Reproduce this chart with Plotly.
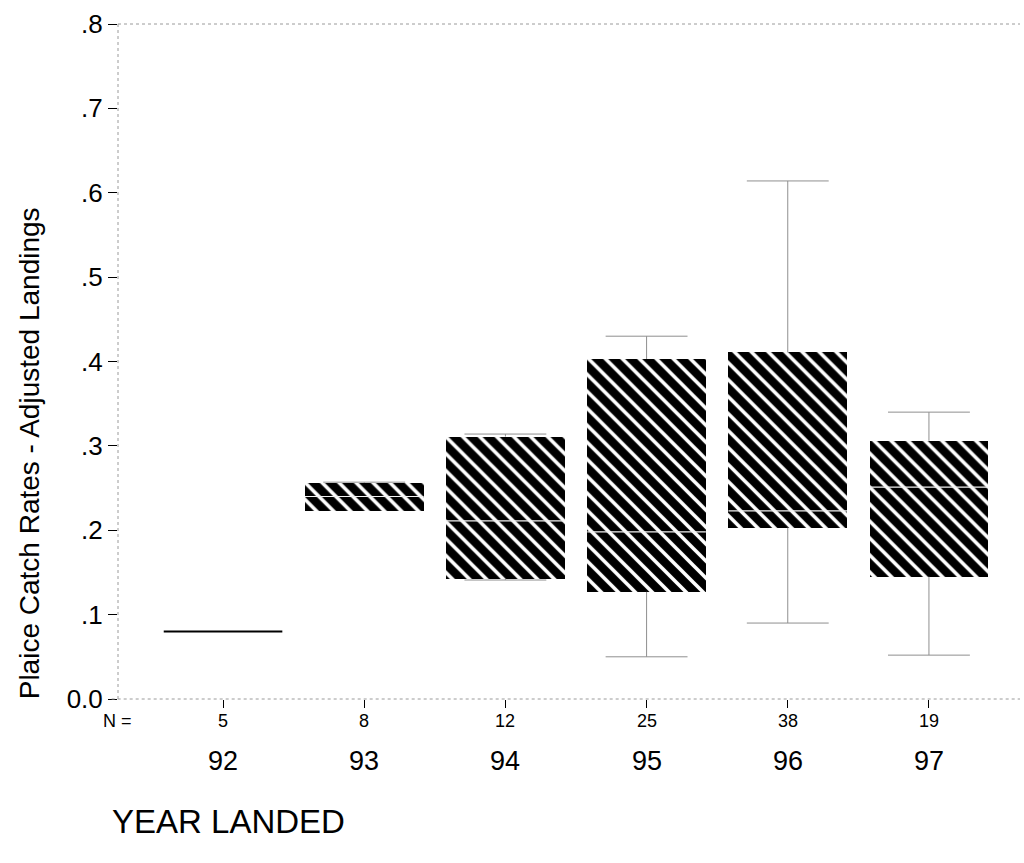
import plotly.graph_objects as go

# ---- data ----
years = ["92", "93", "94", "95", "96", "97"]
n_counts = [5, 8, 12, 25, 38, 19]
q1 = [0.080, 0.223, 0.142, 0.127, 0.203, 0.145]
median = [0.080, 0.240, 0.211, 0.198, 0.223, 0.251]
q3 = [0.080, 0.256, 0.311, 0.403, 0.411, 0.306]
whisker_low = [0.080, 0.223, 0.141, 0.050, 0.090, 0.052]
whisker_high = [0.080, 0.257, 0.314, 0.430, 0.614, 0.340]
ytick_vals = [0.0, 0.1, 0.2, 0.3, 0.4, 0.5, 0.6, 0.7, 0.8]
ytick_text = ["0.0", ".1", ".2", ".3", ".4", ".5", ".6", ".7", ".8"]

FONT = "Liberation Sans, Arial, Helvetica, sans-serif"
BOX_W = 0.84
CAP_HALF = 0.29
xs = list(range(len(years)))

fig = go.Figure()

# whiskers (stems + caps)
wx, wy = [], []
for i in xs:
    if whisker_high[i] > q3[i]:
        wx += [i, i, None, i - CAP_HALF, i + CAP_HALF, None]
        wy += [q3[i], whisker_high[i], None, whisker_high[i], whisker_high[i], None]
    if whisker_low[i] < q1[i]:
        wx += [i, i, None, i - CAP_HALF, i + CAP_HALF, None]
        wy += [q1[i], whisker_low[i], None, whisker_low[i], whisker_low[i], None]
fig.add_trace(go.Scatter(x=wx, y=wy, mode="lines",
                         line=dict(color="#8f8f8f", width=1),
                         hoverinfo="skip", showlegend=False))

# hatched boxes
fig.add_trace(go.Bar(
    x=xs,
    y=[q3[i] - q1[i] for i in xs],
    base=q1,
    width=BOX_W,
    marker=dict(color="black", line=dict(width=0),
                pattern=dict(shape="\\", fgcolor="white", bgcolor="black",
                             size=12, solidity=0.3, fillmode="replace")),
    hoverinfo="skip", showlegend=False))

# median lines
for i in xs:
    col = "#f2f2f2" if q3[i] > q1[i] else "black"
    fig.add_trace(go.Scatter(x=[i - BOX_W / 2, i + BOX_W / 2], y=[median[i], median[i]],
                             mode="lines", line=dict(color=col, width=2 if col == "black" else 1.2),
                             hoverinfo="skip", showlegend=False))

# frame (dotted grey, scanned look)
frame = dict(color="#9a9a9a", width=1, dash="dot")
fig.add_shape(type="line", xref="paper", yref="paper", x0=0, x1=1, y0=1, y1=1, line=frame)
fig.add_shape(type="line", xref="paper", yref="paper", x0=0, x1=0, y0=0, y1=1, line=frame)
fig.add_shape(type="line", xref="paper", yref="paper", x0=-0.007, x1=1, y0=0, y1=0, line=frame)

annotations = []
for i in xs:
    annotations.append(dict(x=i, y=-0.0326, xref="x", yref="paper", text=str(n_counts[i]),
                            showarrow=False, font=dict(family=FONT, size=18, color="black"),
                            xanchor="center", yanchor="middle"))
    annotations.append(dict(x=i, y=-0.0919, xref="x", yref="paper", text=years[i],
                            showarrow=False, font=dict(family=FONT, size=27, color="black"),
                            xanchor="center", yanchor="middle"))
annotations.append(dict(x=-0.001, y=-0.0326, xref="paper", yref="paper", text="N =",
                        showarrow=False, font=dict(family=FONT, size=18, color="black"),
                        xanchor="center", yanchor="middle"))
annotations.append(dict(x=-0.009, y=-0.182, xref="paper", yref="paper", text="YEAR LANDED",
                        showarrow=False, font=dict(family=FONT, size=33, color="black"),
                        xanchor="left", yanchor="middle"))
annotations.append(dict(x=-0.0987, y=0.364, xref="paper", yref="paper",
                        text="Plaice Catch Rates - Adjusted Landings", textangle=-90,
                        showarrow=False, font=dict(family=FONT, size=28, color="black"),
                        xanchor="center", yanchor="middle"))

fig.update_layout(
    width=1024, height=863, autosize=False,
    margin=dict(l=118, r=4, t=24, b=164, pad=0),
    plot_bgcolor="white", paper_bgcolor="white",
    bargap=0, showlegend=False,
    annotations=annotations,
    xaxis=dict(range=[-0.744, 5.645], tickvals=xs, ticktext=[""] * len(xs),
               ticks="outside", ticklen=8, tickcolor="black", tickwidth=1,
               showgrid=False, zeroline=False, showline=False, fixedrange=True),
    yaxis=dict(range=[0, 0.8], tickvals=ytick_vals, ticktext=ytick_text,
               ticks="outside", ticklen=9, tickcolor="black", tickwidth=1,
               tickfont=dict(family=FONT, size=26, color="black"),
               showgrid=False, zeroline=False, showline=False, fixedrange=True),
)

fig.write_html("out.html", config={"displayModeBar": False},
               post_script="document.body.style.margin='0';document.body.style.overflow='hidden';")
